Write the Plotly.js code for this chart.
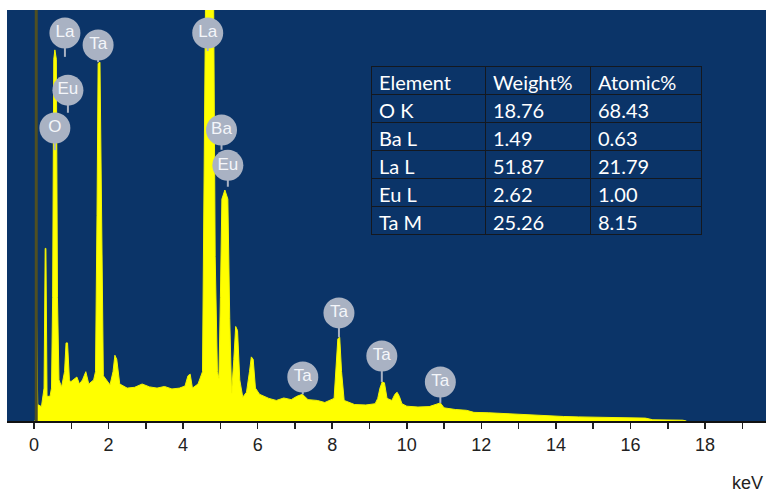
<!DOCTYPE html>
<html>
<head>
<meta charset="utf-8">
<script src="https://cdn.plot.ly/plotly-3.0.1.min.js"></script>
<style>html,body{margin:0;padding:0;background:#fff;}#chart{width:766px;height:493px;}</style>
</head>
<body>
<div id="chart"></div>
<script>
// Spectrum (energy keV, relative counts)
const energy = [0.0,0.04,0.06,0.1,0.2,0.27,0.3,0.32,0.35,0.43,0.47,0.5,0.53,0.56,0.6,0.63,0.67,0.74,0.82,0.86,0.9,0.95,0.98,1.05,1.15,1.22,1.3,1.39,1.47,1.6,1.65,1.69,1.72,1.77,1.81,1.86,2.04,2.12,2.17,2.22,2.3,2.5,2.7,2.9,3.1,3.3,3.5,3.7,3.9,4.05,4.13,4.19,4.25,4.4,4.52,4.56,4.6,4.82,4.86,4.92,4.96,5.0,5.04,5.12,5.2,5.25,5.3,5.36,5.41,5.46,5.52,5.6,5.7,5.78,5.83,5.88,5.94,6.05,6.3,6.5,6.7,6.9,7.05,7.2,7.35,7.6,7.8,8.05,8.1,8.15,8.2,8.25,8.32,8.6,8.9,9.15,9.22,9.28,9.34,9.4,9.47,9.6,9.68,9.74,9.8,9.87,10.0,10.3,10.6,10.9,11.0,11.3,11.6,11.8,12.2,12.6,13.0,13.5,13.9,14.2,14.6,15.0,15.5,16.0,16.4,16.6,17.0,17.4,17.5];
const counts = [0,0,30,4,3.5,8,42,42,6,6,8,30,88,90.3,88,30,10,8.3,12,19,19,10,9.5,10,10.7,9,10,12,9,10,12,50,87,87.3,50,11,8.8,12,16,15,9,8,8.2,9,8.3,8,8.4,7.8,8,8.5,11,11.4,8,9,12,50,101,101,40,12,10.4,30,54,56.2,54,25,6.8,15,23,22,10,5.8,7,12,15.6,15,8,6.5,5.5,5,5.6,5.2,6,6.5,5.2,5,4.5,5.5,12,20,20.4,12,5,4,3.9,4.2,5.5,8,9.5,9.3,5.5,5,6.5,7,6,4.2,3.6,3.4,3.5,4.4,3.2,2.8,2.6,2.1,2,1.8,1.6,1.4,1.3,1.1,1.0,0.9,0.8,0.7,0.7,0.3,0.3,0.2,0];

// Zero-energy strobe line
const zeroX = [0.06, 0.06];
const zeroY = [0, 101];

// Peak labels
const labels = ['La','Ta','Eu','O','La','Ba','Eu','Ta','Ta','Ta','Ta'];
const labelX = [0.83,1.72,0.91,0.56,4.66,5.03,5.2,8.18,9.33,7.21,10.9];
const labelY = [94.4,91.5,80.5,71.3,94.4,70.8,62.2,26.3,15.8,10.7,9.5];
const stemEnd = [88.6,87.3,75,65.9,90,66,57,20.4,9.5,6.5,4.4];

// Quantification table
const tableHeader = ['Element','Weight%','Atomic%'];
const elements = ['O K','Ba L','La L','Eu L','Ta M'];
const weightPct = ['18.76','1.49','51.87','2.62','25.26'];
const atomicPct = ['68.43','0.63','21.79','1.00','8.15'];

// Tick labels
const tickVals = [0,2,4,6,8,10,12,14,16,18];
const tickText = ['0','2','4','6','8','10','12','14','16','18'];

const BLUE = '#0b3468';
const LABEL = '#a9b2c3';

const stemX = [], stemY = [];
labelX.forEach((x, i) => { stemX.push(x, x, null); stemY.push(labelY[i], stemEnd[i], null); });

const traces = [
  {type:'scatter', x: energy, y: counts, mode:'lines', fill:'tozeroy',
   fillcolor:'#ffff00', line:{color:'#f4f400', width:1}, hoverinfo:'skip'},
  {type:'scatter', x: zeroX, y: zeroY, mode:'lines', line:{color:'#4f4f22', width:3}, hoverinfo:'skip'},
  {type:'scatter', x: stemX, y: stemY, mode:'lines', line:{color:LABEL, width:2}, hoverinfo:'skip'},
  {type:'scatter', x: labelX, y: labelY, mode:'markers+text', text: labels,
   marker:{size:31, color:LABEL, line:{width:0}},
   textposition:'middle center',
   textfont:{family:'Liberation Sans Narrow, Liberation Sans, Arial', size:17, color:'#f4f6fa'},
   hoverinfo:'skip'},
  {type:'table', domain:{x:[0.4796,0.9144], y:[0.447,0.862]},
   columnwidth:[114,105,111],
   header:{values: tableHeader, height:28, align:'left',
     fill:{color:BLUE}, line:{color:'#14181f', width:1},
     font:{family:'Lato, Open Sans, sans-serif', size:20, color:'#ffffff'}},
   cells:{values:[elements, weightPct, atomicPct], height:28, align:'left',
     fill:{color:BLUE}, line:{color:'#14181f', width:1},
     font:{family:'Lato, Open Sans, sans-serif', size:20, color:'#ffffff'}}}
];

const layout = {
  width:766, height:493,
  margin:{l:7, r:0, t:10, b:72},
  paper_bgcolor:'#ffffff', plot_bgcolor:BLUE,
  showlegend:false,
  xaxis:{range:[-0.724,19.635], showgrid:false, zeroline:false,
    showline:true, linecolor:'#111', linewidth:2,
    tickmode:'array', tickvals: tickVals, ticktext: tickText,
    ticks:'outside', ticklen:6, tickwidth:1.5, tickcolor:'#222',
    minor:{dtick:1, ticks:'outside', ticklen:6, tickwidth:1.5, tickcolor:'#222', showgrid:false},
    tickfont:{family:'Liberation Sans Narrow, Liberation Sans, Arial', size:18, color:'#222'}},
  yaxis:{range:[0,100], visible:false, showgrid:false, zeroline:false},
  annotations:[
    {text:'keV', xref:'paper', yref:'paper', x:0.9987, y:-0.151, xanchor:'right', yanchor:'middle',
     showarrow:false, font:{family:'Liberation Sans Narrow, Liberation Sans, Arial', size:18, color:'#222'}}
  ]
};

Plotly.newPlot('chart', traces, layout, {displayModeBar:false, staticPlot:true});
</script>
</body>
</html>
